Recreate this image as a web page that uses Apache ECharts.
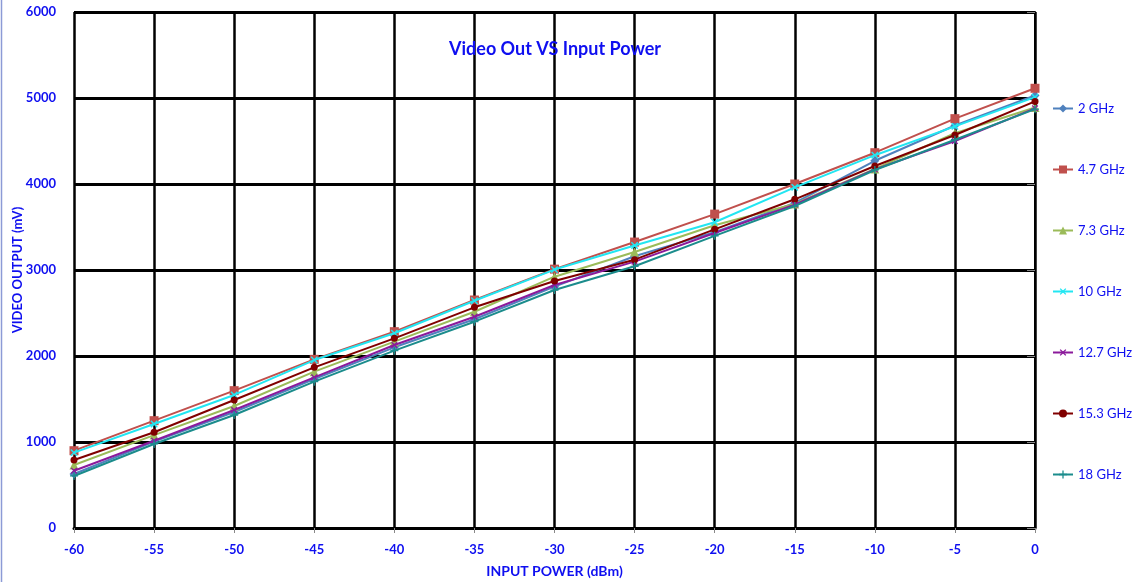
<!DOCTYPE html>
<html>
<head>
<meta charset="utf-8">
<script src="https://cdn.jsdelivr.net/npm/echarts@6/dist/echarts.min.js"></script>
<style>html,body{margin:0;padding:0;background:#fff;}#c{width:1135px;height:582px;}</style>
</head>
<body>
<div id="c"></div>
<script>
const inputPower = [-60, -55, -50, -45, -40, -35, -30, -25, -20, -15, -10, -5, 0];
const s2GHz   = [628, 1004, 1349, 1733, 2101, 2427, 2806, 3160, 3440, 3780, 4270, 4680, 5030];
const s4_7GHz = [899, 1248, 1597, 1961, 2283, 2651, 3010, 3325, 3650, 4000, 4364, 4760, 5113];
const s7_3GHz = [733, 1080, 1419, 1818, 2167, 2515, 2922, 3210, 3520, 3767, 4175, 4590, 4890];
const s10GHz  = [876, 1209, 1547, 1953, 2264, 2643, 3005, 3285, 3555, 3961, 4335, 4670, 5010];
const s12_7GHz= [666, 1015, 1372, 1752, 2128, 2457, 2826, 3097, 3430, 3760, 4170, 4500, 4880];
const s15_3GHz= [791, 1113, 1488, 1868, 2205, 2566, 2872, 3120, 3473, 3822, 4209, 4570, 4960];
const s18GHz  = [605, 977, 1314, 1702, 2062, 2399, 2767, 3043, 3397, 3744, 4163, 4515, 4870];
const seriesNames = ['2 GHz', '4.7 GHz', '7.3 GHz', '10 GHz', '12.7 GHz', '15.3 GHz', '18 GHz'];
const seriesValues = [s2GHz, s4_7GHz, s7_3GHz, s10GHz, s12_7GHz, s15_3GHz, s18GHz];

const colors = ['#4F81BD', '#C0504D', '#9BBB59', '#22E6F2', '#8B1A9B', '#800000', '#1B8C8C'];
const plus = 'path://M0,4.2L4.2,4.2L4.2,0L5.8,0L5.8,4.2L10,4.2L10,5.8L5.8,5.8L5.8,10L4.2,10L4.2,5.8L0,5.8Z';
const symbols = [
  {symbol: 'diamond', size: 9, rot: 0},
  {symbol: 'rect', size: 9, rot: 0},
  {symbol: 'triangle', size: 9, rot: 0},
  {symbol: plus, size: 9, rot: 45},
  {symbol: plus, size: 8, rot: 45},
  {symbol: 'circle', size: 7, rot: 0},
  {symbol: plus, size: 8, rot: 0}
];
const textBlue = '#0F0FF0';
const font = 'Lato, "Liberation Sans", sans-serif';

const chart = echarts.init(document.getElementById('c'));
chart.setOption({
  animation: false,
  backgroundColor: '#fff',
  title: {
    text: 'Video Out VS Input Power',
    left: 550, top: 35, textAlign: 'center',
    textStyle: {color: textBlue, fontFamily: font, fontWeight: 'bold', fontSize: 18}
  },
  grid: {left: 74, right: 100, top: 12, bottom: 54, outerBoundsMode: 'none', containLabel: false},
  legend: {
    orient: 'vertical', left: 1047, top: 97,
    itemWidth: 20, itemHeight: 10, itemGap: 48,
    textStyle: {color: textBlue, fontFamily: font, fontSize: 13},
    data: seriesNames
  },
  xAxis: {
    type: 'value', min: -60, max: 0, interval: 5,
    name: 'INPUT POWER (dBm)', nameLocation: 'middle', nameGap: 36, nameMoveOverlap: false,
    nameTextStyle: {color: textBlue, fontFamily: font, fontWeight: 'bold', fontSize: 14},
    axisLine: {lineStyle: {color: '#000', width: 3}},
    axisTick: {show: true, length: 5, lineStyle: {color: '#888', width: 1}},
    axisLabel: {color: textBlue, fontFamily: font, fontWeight: 'bold', fontSize: 13, margin: 15},
    splitLine: {show: true, lineStyle: {color: '#000', width: 2.5}}
  },
  yAxis: {
    type: 'value', min: 0, max: 6000, interval: 1000,
    name: 'VIDEO OUTPUT (mV)', nameLocation: 'middle', nameGap: 50, nameMoveOverlap: false,
    nameTextStyle: {color: textBlue, fontFamily: font, fontWeight: 'bold', fontSize: 13},
    axisLine: {show: true, lineStyle: {color: '#000', width: 2}},
    axisTick: {show: true, length: 8, lineStyle: {color: '#888', width: 1}},
    axisLabel: {color: textBlue, fontFamily: font, fontWeight: 'bold', fontSize: 13, margin: 18,
      formatter: v => String(v)},
    splitLine: {show: true, lineStyle: {color: '#000', width: 3}}
  },
  graphic: [{type: 'line', shape: {x1: 1.5, y1: 0, x2: 1.5, y2: 582}, style: {stroke: '#8C9BD6', lineWidth: 1.5}}],
  series: seriesNames.map((n, i) => ({
    name: n, type: 'line',
    data: inputPower.map((x, j) => [x, seriesValues[i][j]]),
    symbol: symbols[i].symbol, symbolSize: symbols[i].size, symbolRotate: symbols[i].rot,
    showAllSymbol: true,
    lineStyle: {color: colors[i], width: 2},
    itemStyle: {color: colors[i]},
    z: 2 + i
  }))
});
</script>
</body>
</html>
